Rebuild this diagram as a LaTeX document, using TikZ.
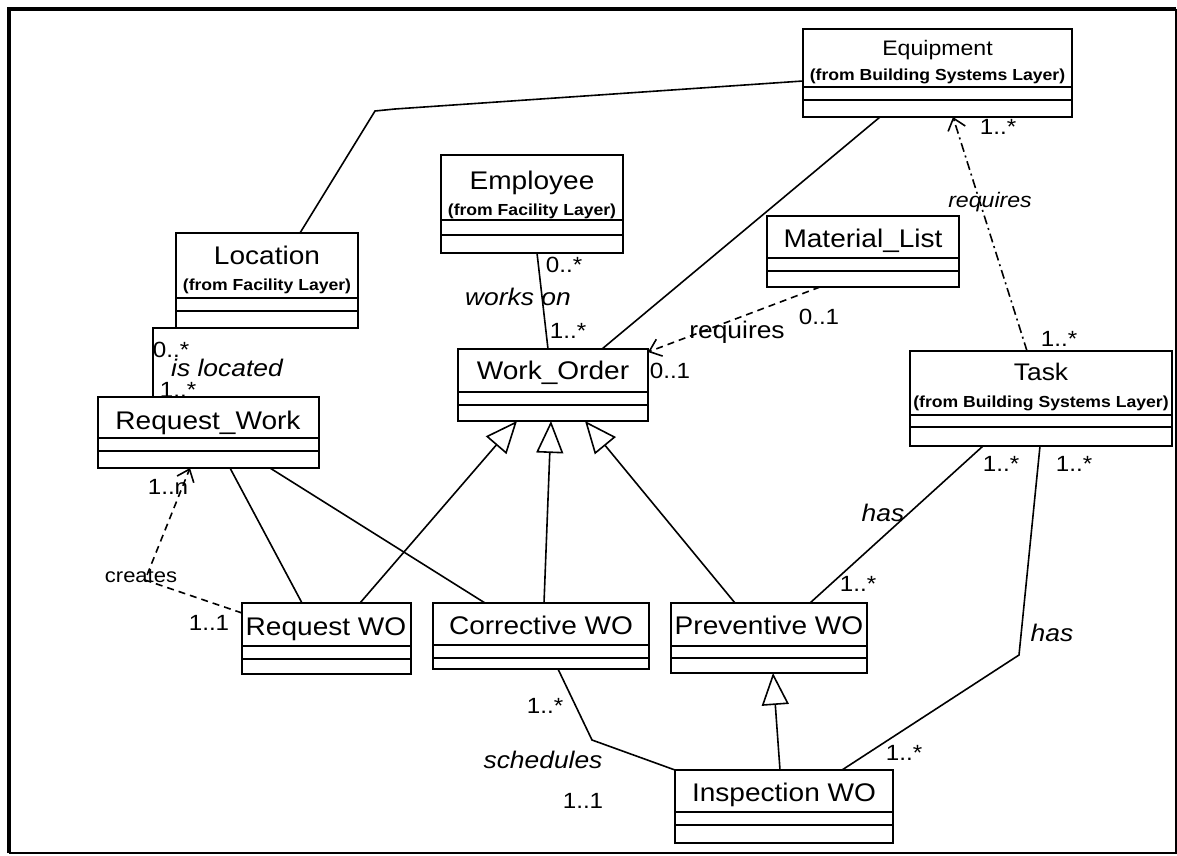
\documentclass[tikz,border=0pt]{standalone}
\usepackage{fontspec}
\setmainfont{Liberation Sans}[FakeStretch=1.1]
\usetikzlibrary{arrows.meta}

\tikzset{
  classbox/.style={draw, line width=2pt, inner sep=0pt, outer sep=0pt},
  compline/.style={line width=1.8pt},
  cname/.style={inner sep=0pt, font=\fontsize{25.5}{28}\selectfont, text height=18pt, text depth=0pt},
  csub/.style={inner sep=0pt, font=\bfseries\fontsize{16}{18}\selectfont, text height=11.5pt, text depth=0pt},
  mult/.style={inner sep=0pt, font=\fontsize{22}{25}\selectfont, text height=16pt, text depth=0pt},
  role/.style={inner sep=0pt, font=\itshape\fontsize{24}{27}\selectfont, text height=17pt, text depth=0pt},
  plainrole/.style={inner sep=0pt, font=\fontsize{24}{27}\selectfont, text height=17pt, text depth=0pt},
  assoc/.style={line width=1.6pt},
  gen/.style={assoc, -{Triangle[open, length=32pt, width=27pt, line width=1.6pt]}},
  dep/.style={assoc, dash pattern=on 7pt off 5pt, -{Straight Barb[length=11pt, width=18pt, line width=1.6pt]}},
  trace/.style={assoc, dash pattern=on 9pt off 4pt on 2pt off 4pt, -{Straight Barb[length=11pt, width=18pt, line width=1.6pt]}},
}

% class rectangle: name, x1, y1, x2, y2, first and second compartment lines
\newcommand\classframe[7]{%
  \node[classbox, minimum width={#4-#2}, minimum height={#5-#3}] (#1) at ({(#2+#4)/2},{(#3+#5)/2}) {};
  \draw[compline] (#2,#6) -- (#4,#6) (#2,#7) -- (#4,#7);
}

\begin{document}
\begin{tikzpicture}[x=1pt, y=-1pt]
\useasboundingbox (0,0) rectangle (1177,856);

% outer frame
\draw[line width=2pt] (9,853) -- (1176,853) -- (1176,9);
\draw[line width=4pt] (9,853) -- (9,9) -- (1176,9);

% classes
\classframe{Equipment}{803}{29}{1072}{117}{87}{100}
\node[cname, font=\fontsize{21}{24}\selectfont, text height=15pt] (Equipment-name) at (937.5,48) {Equipment};
\node[csub] (Equipment-pkg) at (937.5,75) {(from Building Systems Layer)};

\classframe{Employee}{441}{155}{623}{253}{220}{235}
\node[cname] (Employee-name) at (532,180) {Employee};
\node[csub] (Employee-pkg) at (532,210) {(from Facility Layer)};

\classframe{Location}{176}{233}{358}{328}{298}{311}
\node[cname] (Location-name) at (267,255) {Location};
\node[csub] (Location-pkg) at (267,285) {(from Facility Layer)};

\classframe{MaterialList}{767}{216}{959}{287}{258}{271}
\node[cname] (MaterialList-name) at (863,238) {Material\_List};

\classframe{WorkOrder}{458}{349}{648}{421}{392}{405}
\node[cname] (WorkOrder-name) at (553,370) {Work\_Order};

\classframe{Task}{910}{351}{1172}{446}{415}{427}
\node[cname, font=\fontsize{24}{27}\selectfont, text height=17pt] (Task-name) at (1041,372) {Task};
\node[csub] (Task-pkg) at (1041,402) {(from Building Systems Layer)};

\classframe{RequestWork}{98}{397}{319}{468}{438}{451}
\node[cname] (RequestWork-name) at (208,420) {Request\_Work};

\classframe{RequestWO}{242}{603}{411}{674}{646}{659}
\node[cname] (RequestWO-name) at (326,626) {Request WO};

\classframe{CorrectiveWO}{433}{603}{649}{669}{645}{658}
\node[cname] (CorrectiveWO-name) at (541,625) {Corrective WO};

\classframe{PreventiveWO}{671}{603}{867}{673}{646}{658}
\node[cname] (PreventiveWO-name) at (769,625) {Preventive WO};

\classframe{InspectionWO}{675}{770}{893}{843}{812}{825}
\node[cname] (InspectionWO-name) at (784,792) {Inspection WO};

% associations
\draw[assoc] (300,0 |- Location.north) -- (375,111) -- (395,109) -- (Equipment.west |- 0,81);
\draw[assoc] (880,0 |- Equipment.south) -- (602,0 |- WorkOrder.north);

\draw[assoc] (537,0 |- Employee.south) -- (548,0 |- WorkOrder.north);
\node[mult] (m-emp) at (564,264) {0..*};
\node[role] (r-works) at (518,297) {works on};
\node[mult] (m-wo1) at (568,330) {1..*};

\draw[dep] (820,0 |- MaterialList.south) -- (WorkOrder.east |- 0,352);
\node[plainrole] (r-req1) at (737,330) {requires};
\node[mult] (m-mat) at (819,316) {0..1};
\node[mult] (m-wo2) at (670,370) {0..1};

\draw[trace] (1027,0 |- Task.north) -- (953,0 |- Equipment.south);
\node[role, font=\itshape\fontsize{21}{24}\selectfont, text height=15pt] (r-req2) at (990,200) {requires};
\node[mult] (m-eq) at (998,127) {1..*};
\node[mult] (m-task1) at (1059,338) {1..*};

\draw[assoc] (Location.south west) -| (153,0 |- RequestWork.north);
\node[mult] (m-loc) at (171,349) {0..*};
\node[role] (r-loc) at (227,368) {is located};
\node[mult] (m-rw) at (178,389) {1..*};

\draw[dep] (RequestWO.west |- 0,613) -- (145,580) -- (190,0 |- RequestWork.south);
\node[plainrole, font=\fontsize{20}{22}\selectfont, text height=14pt] (r-creates) at (141,575) {creates};
\node[mult] (m-rw2) at (168,486) {1..n};
\node[mult] (m-rwo) at (209,622) {1..1};

\draw[assoc] (230,0 |- RequestWork.south) -- (302,0 |- RequestWO.north);
\draw[assoc] (270,0 |- RequestWork.south) -- (485,0 |- CorrectiveWO.north);

% generalizations
\draw[gen] (360,0 |- RequestWO.north) -- (517,0 |- WorkOrder.south);
\draw[gen] (544,0 |- CorrectiveWO.north) -- (551,0 |- WorkOrder.south);
\draw[gen] (735,0 |- PreventiveWO.north) -- (585,0 |- WorkOrder.south);
\draw[gen] (780,0 |- InspectionWO.north) -- (773,0 |- PreventiveWO.south);

% schedules
\draw[assoc] (558,0 |- CorrectiveWO.south) -- (592,740) -- (InspectionWO.north west);
\node[mult] (m-cwo) at (545,705) {1..*};
\node[role] (r-sched) at (543,760) {schedules};
\node[mult] (m-iwo1) at (583,800) {1..1};

% has (task - preventive)
\draw[assoc] (983,0 |- Task.south) -- (810,0 |- PreventiveWO.north);
\node[mult] (m-task2) at (1001,463) {1..*};
\node[role] (r-has1) at (883,513) {has};
\node[mult] (m-pwo) at (858,583) {1..*};

% has (task - inspection)
\draw[assoc] (1040,0 |- Task.south) -- (1019,655) -- (842,0 |- InspectionWO.north);
\node[mult] (m-task3) at (1074,463) {1..*};
\node[role] (r-has2) at (1052,633) {has};
\node[mult] (m-iwo2) at (904,752) {1..*};
\end{tikzpicture}
\end{document}
